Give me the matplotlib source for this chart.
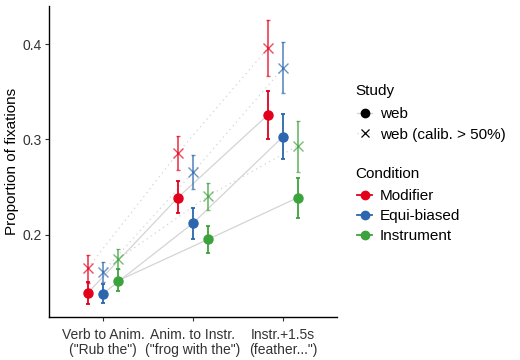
import numpy as np
import matplotlib.pyplot as plt
from matplotlib.lines import Line2D

plt.rcParams['font.family'] = ['Liberation Sans', 'DejaVu Sans']

periods = ['Verb to Anim.\n("Rub the")', 'Anim. to Instr.\n("frog with the")', 'Instr.+1.5s\n(feather...")']
conditions = ['Modifier', 'Equi-biased', 'Instrument']
colors = ['#E3001B', '#2B66AE', '#3CA33C']

# study "web" (circles)
web_mean = [[0.139, 0.239, 0.326], [0.138, 0.212, 0.303], [0.1515, 0.195, 0.239]]
web_lo = [[0.127, 0.2225, 0.300], [0.128, 0.1955, 0.279], [0.141, 0.1805, 0.217]]
web_hi = [[0.1505, 0.256, 0.351], [0.148, 0.228, 0.3265], [0.164, 0.209, 0.260]]

# study "web (calib. > 50%)" (crosses)
cal_mean = [[0.165, 0.286, 0.396], [0.161, 0.2655, 0.375], [0.174, 0.2405, 0.2935]]
cal_lo = [[0.1495, 0.268, 0.367], [0.150, 0.248, 0.349], [0.1635, 0.226, 0.266]]
cal_hi = [[0.179, 0.304, 0.4255], [0.171, 0.2835, 0.402], [0.1845, 0.2545, 0.3195]]

fig = plt.figure(figsize=(5.2, 3.6), dpi=100)
ax = fig.add_axes([49 / 520, 1 - 317 / 360, 288 / 520, 311 / 360])

x = np.arange(1, len(periods) + 1)
offsets = [-1 / 6, 0, 1 / 6]

for i, col in enumerate(colors):
    xs = x + offsets[i]
    ax.plot(xs, web_mean[i], color='#d4d4d4', lw=0.9, zorder=1)
    ax.plot(xs, cal_mean[i], color='#d4d4d4', lw=0.9, ls=(0, (1, 3)), zorder=1)

for i, col in enumerate(colors):
    xs = x + offsets[i]
    m = np.array(cal_mean[i])
    ax.errorbar(xs, m, yerr=[m - np.array(cal_lo[i]), np.array(cal_hi[i]) - m],
                fmt='x', color=col, alpha=0.7, ms=7, mew=1.0, elinewidth=1.3,
                capsize=1.6, capthick=1.3, zorder=2)
    m = np.array(web_mean[i])
    ax.errorbar(xs, m, yerr=[m - np.array(web_lo[i]), np.array(web_hi[i]) - m],
                fmt='o', color=col, ms=6.5, elinewidth=1.3,
                capsize=1.6, capthick=1.3, zorder=3)

ax.set_xlim(0.4, 3.6)
ax.set_ylim(0.1134, 0.4403)
ax.set_xticks(x)
ax.set_xticklabels(periods, fontsize=10, color='#333333', linespacing=1.05)
ax.set_yticks([0.2, 0.3, 0.4])
ax.set_yticklabels(['0.2', '0.3', '0.4'], fontsize=10, color='#333333')
ax.tick_params(length=3, width=0.8, color='#333333', pad=2)
ax.tick_params(axis='x', pad=5)
ax.set_ylabel('Proportion of fixations', fontsize=11, labelpad=2.5)
for s in ['top', 'right']:
    ax.spines[s].set_visible(False)
for s in ['left', 'bottom']:
    ax.spines[s].set_linewidth(1.0)

fig.text(355 / 520, 1 - 91 / 360, 'Study', fontsize=11, va='center', ha='left')
fig.text(355 / 520, 1 - 174 / 360, 'Condition', fontsize=11, va='center', ha='left')

study_handles = [
    Line2D([], [], color='#d4d4d4', lw=0.9, marker='o', mfc='black', mec='black', ms=6),
    Line2D([], [], color='#d4d4d4', lw=0.9, ls=(0, (1, 2)), marker='x', mec='black', ms=6, mew=0.9),
]
fig.legend(study_handles, ['web', 'web (calib. > 50%)'],
           loc='center left', bbox_to_anchor=(357 / 520, 1 - 124.5 / 360),
           frameon=False, fontsize=11, handlelength=1.0, handletextpad=0.5,
           labelspacing=0.4, borderpad=0, borderaxespad=0)
cond_handles = [Line2D([], [], color=c, lw=1.3, marker='o', ms=6) for c in colors]
fig.legend(cond_handles, conditions,
           loc='center left', bbox_to_anchor=(357 / 520, 1 - 216 / 360),
           frameon=False, fontsize=11, handlelength=1.0, handletextpad=0.5,
           labelspacing=0.4, borderpad=0, borderaxespad=0)

fig.savefig('out.png', dpi=100)
